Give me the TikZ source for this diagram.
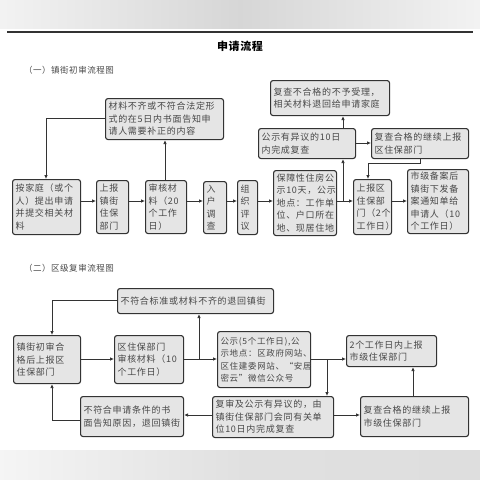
\documentclass[tikz,border=0pt]{standalone}
\usepackage{fontspec}
\newfontfamily\cjk[LetterSpace=8]{Noto Sans CJK SC}
\newfontfamily\cjkh[LetterSpace=6]{Noto Sans CJK SC}
\usetikzlibrary{arrows.meta}
\definecolor{boxfill}{HTML}{E5E5E5}
\definecolor{boxline}{HTML}{333333}
\definecolor{txt}{HTML}{474747}
\tikzset{
  box/.style={draw=boxline, fill=boxfill, rounded corners=2.5pt, line width=1.1pt,
    font=\cjk\fontsize{9}{12.5}\selectfont, text=txt, align=left,
    inner xsep=3pt, inner ysep=1pt, anchor=north west},
  conn/.style={draw=boxline, line width=1pt},
  arr/.style={conn, -{Latex[length=4pt,width=3.6pt]}},
  head/.style={font=\cjkh\fontsize{8.5}{10}\selectfont, text=txt, anchor=west, inner sep=0pt}
}
\begin{document}
\begin{tikzpicture}[x=1pt,y=-1pt]
\useasboundingbox (0,0) rectangle (480,480);
% top band and rule
\shade[left color=white!95!black, right color=white!95!black, middle color=white!84!black] (0,0) rectangle (480,29);
\fill[white] (0,29) rectangle (480,31);
\draw[line width=1.6pt, draw=black!80] (7,32) -- (473,32);
% bottom band
\shade[left color=white!96!black, right color=white!88!black] (0,450) rectangle (240,480);
\shade[left color=white!88!black, right color=white!87!black] (240,450) rectangle (480,480);

\node[font=\cjkh\bfseries\fontsize{11}{13}\selectfont, text=black] (title) at (240,46) {申请流程};
\node[head] (h1) at (24,70) {（一）镇街初审流程图};
\node[head] (h2) at (24,268) {（二）区级复审流程图};

% section 1
\node[box, text width=62pt, minimum height=55pt] (A) at (12,179) {按家庭（或个\\人）提出申请\\并提交相关材\\料};
\node[box, text width=26pt, minimum height=53pt] (B) at (96,180) {上报\\镇街\\住保\\部门};
\node[box, text width=35pt, minimum height=53pt] (C) at (145,180) {审核材\\料（20\\个工作\\日）};
\node[box, text width=17pt, minimum height=52pt] (D) at (203,181) {入\\户\\调\\查};
\node[box, text width=14pt, minimum height=54pt] (E) at (237,180) {组\\织\\评\\议};
\node[box, text width=57pt, minimum height=65pt] (F) at (273,170) {保障性住房公\\示10天，公示\\地点：工作单\\位、户口所在\\地、现居住地};
\node[box, text width=32pt, minimum height=55pt] (G) at (353,179) {上报区\\住保部\\门（2个\\工作日）};
\node[box, text width=55pt, minimum height=64pt] (H) at (407,169) {市级备案后\\镇街下发备\\案通知单给\\申请人（10\\个工作日）};
\node[box, text width=112pt, minimum height=41pt] (I) at (105,98) {材料不齐或不符合法定形\\式的在5日内书面告知申\\请人需要补正的内容};
\node[box, text width=113pt, minimum height=35pt] (J) at (270,80) {复查不合格的不予受理，\\相关材料退回给申请家庭};
\node[box, text width=91pt, minimum height=30pt] (K) at (258,128) {公示有异议的10日\\内完成复查};
\node[box, text width=91pt, minimum height=30pt] (L) at (371,128) {复查合格的继续上报\\区住保部门};

\coordinate (y1) at (0,201);
\draw[arr] (A.east |- y1) -- (B.west |- y1);
\draw[arr] (B.east |- y1) -- (C.west |- y1);
\draw[arr] (C.east |- y1) -- (D.west |- y1);
\draw[arr] (D.east |- y1) -- (E.west |- y1);
\draw[arr] (E.east |- y1) -- (F.west |- y1);
\draw[arr] (F.east |- y1) -- (G.west |- y1);
\draw[arr] (G.east |- y1) -- (H.west |- y1);
\coordinate (jF) at (343,201);
\draw[arr] (jF) -- (jF |- K.south);
\draw[arr] (K.north -| jF) -- (J.south -| jF);
\draw[arr] (K.east |- 0,143) -- (L.west |- 0,143);
\coordinate (bL) at (420,163);
\coordinate (bG) at (368,163);
\draw[arr] (L.south -| bL) -- (bL) -- (bG) -- (G.north -| bG);
\coordinate (xC) at (165,0);
\draw[arr] (C.north -| xC) -- (I.south -| xC);
\coordinate (bI) at (46,118);
\draw[arr] (I.west |- bI) -- (bI) -- (A.north -| bI);

% section 2
\node[box, text width=61pt, minimum height=48pt] (M) at (13,335) {镇街初审合\\格后上报区\\住保部门};
\node[box, text width=63pt, minimum height=48pt] (N) at (114,335) {区住保部门\\审核材料（10\\个工作日）};
\node[box, text width=150pt, minimum height=25pt] (O) at (117,288) {不符合标准或材料不齐的退回镇街};
\node[box, text width=87pt, minimum height=56pt, font=\cjk\fontsize{8.5}{12.5}\selectfont] (P) at (217,331) {公示(5个工作日),公\\示地点：区政府网站、\\区住建委网站、“安居\\密云”微信公众号};
\node[box, text width=84pt, minimum height=31pt] (Q) at (346,335) {2个工作日内上报\\市级住保部门};
\node[box, text width=115pt, minimum height=41pt] (R) at (212,396) {复审及公示有异议的，由\\镇街住保部门会同有关单\\位10日内完成复查};
\node[box, text width=97pt, minimum height=40pt] (S) at (80,396) {不符合申请条件的书\\面告知原因，退回镇街};
\node[box, text width=102pt, minimum height=40pt] (T) at (360,396) {复查合格的继续上报\\市级住保部门};

\coordinate (y2) at (0,359);
\draw[arr] (M.east |- y2) -- (N.west |- y2);
\draw[arr] (N.east |- y2) -- (P.west |- y2);
\coordinate (jN) at (199,359);
\draw[arr] (jN) -- (O.south -| jN);
\coordinate (bO) at (52,300);
\draw[arr] (O.west |- bO) -- (bO) -- (M.north -| bO);
\draw[arr] (P.east |- y2) -- (Q.west |- y2);
\coordinate (jP) at (327,359);
\draw[arr] (jP) -- (R.north -| jP);
\coordinate (y3) at (0,415);
\draw[arr] (R.east |- y3) -- (T.west |- y3);
\draw[arr] (R.west |- y3) -- (S.east |- y3);
\coordinate (xT) at (413,0);
\draw[arr] (T.north -| xT) -- (Q.south -| xT);
\coordinate (bS) at (52,420);
\draw[arr] (S.west |- bS) -- (bS) -- (M.south -| bS);
\end{tikzpicture}
\end{document}
